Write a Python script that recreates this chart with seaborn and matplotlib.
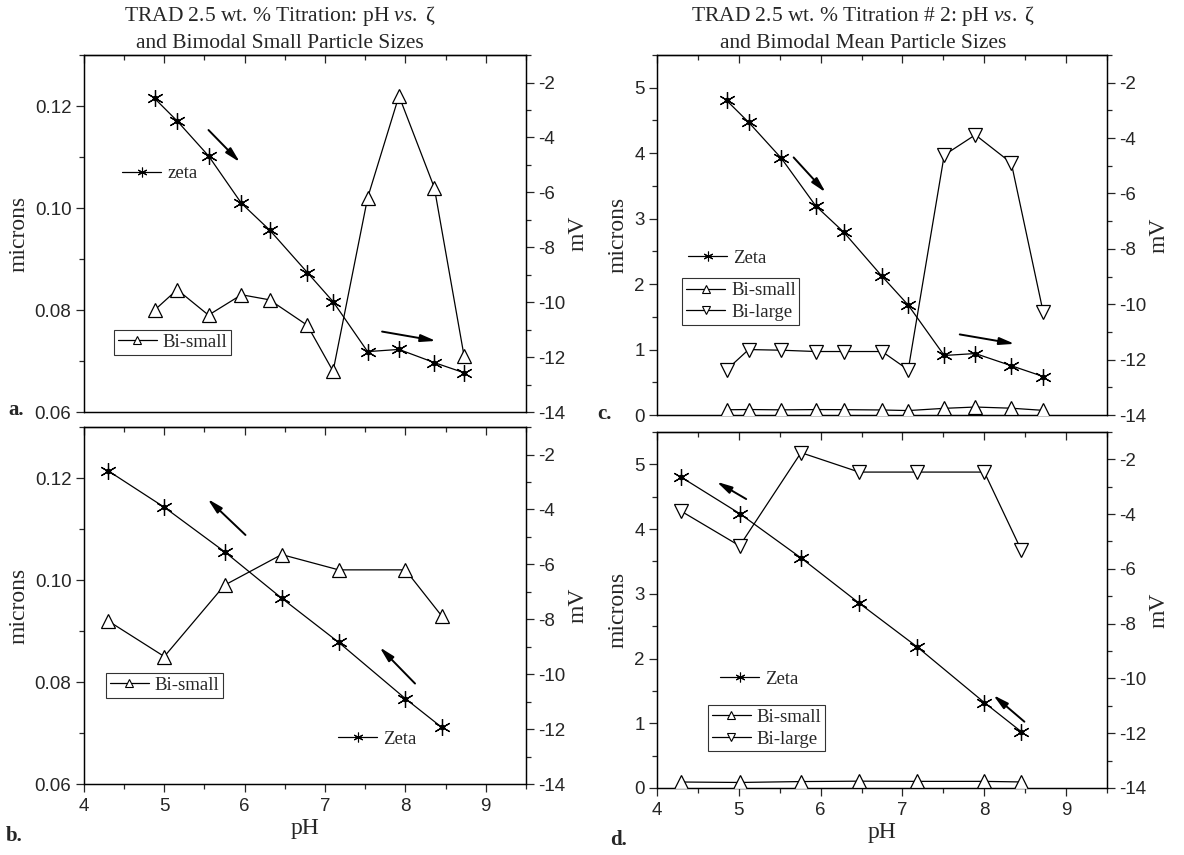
import matplotlib
matplotlib.use("Agg")
import matplotlib.pyplot as plt
from matplotlib.ticker import MultipleLocator
from matplotlib.lines import Line2D
import seaborn as sns

# ---------------- data ----------------
pH_a = [4.88, 5.16, 5.55, 5.96, 6.31, 6.78, 7.10, 7.53, 7.92, 8.36, 8.73]
zeta_a = [-2.58, -3.40, -4.67, -6.40, -7.37, -8.92, -9.98, -11.80, -11.72, -12.20, -12.57]
bismall_a = [0.080, 0.084, 0.079, 0.083, 0.082, 0.077, 0.068, 0.102, 0.122, 0.104, 0.071]

pH_b = [4.30, 5.00, 5.75, 6.46, 7.17, 8.00, 8.45]
zeta_b = [-2.59, -3.92, -5.54, -7.23, -8.84, -10.89, -11.93]
bismall_b = [0.092, 0.085, 0.099, 0.105, 0.102, 0.102, 0.093]

pH_c = [4.85, 5.12, 5.52, 5.94, 6.28, 6.75, 7.07, 7.51, 7.89, 8.33, 8.72]
zeta_c = [-2.64, -3.43, -4.73, -6.45, -7.39, -8.99, -10.03, -11.85, -11.78, -12.22, -12.61]
bismall_c = [0.080, 0.084, 0.079, 0.083, 0.082, 0.077, 0.068, 0.102, 0.122, 0.104, 0.071]
bilarge_c = [0.69, 1.00, 0.99, 0.97, 0.97, 0.97, 0.69, 3.97, 4.28, 3.85, 1.57]

pH_d = [4.29, 5.01, 5.76, 6.47, 7.18, 8.00, 8.45]
zeta_d = [-2.64, -3.98, -5.60, -7.25, -8.85, -10.88, -11.94]
bismall_d = [0.092, 0.085, 0.099, 0.105, 0.102, 0.102, 0.093]
bilarge_d = [4.28, 3.74, 5.18, 4.88, 4.88, 4.88, 3.68]

# direction arrows (pH, mV): start -> end
arrows_a = [((5.55, -3.73), (5.94, -4.90)), ((7.71, -11.07), (8.38, -11.41))]
arrows_b = [((6.01, -4.93), (5.54, -3.62)), ((8.12, -10.34), (7.68, -9.02))]
arrows_c = [((5.67, -4.70), (6.06, -5.96)), ((7.70, -11.09), (8.37, -11.43))]
arrows_d = [((5.09, -3.45), (4.73, -2.82)), ((8.49, -11.58), (8.11, -10.61))]

title_a = ["TRAD 2.5 wt. % Titration: pH $\\it{vs.}$ ζ", "and Bimodal Small Particle Sizes"]
title_c = ["TRAD 2.5 wt. % Titration # 2: pH $\\it{vs.}$ ζ", "and Bimodal Mean Particle Sizes"]

# ---------------- style ----------------
sns.set_style("ticks")
plt.rcParams["font.family"] = ["Liberation Sans", "DejaVu Sans"]
plt.rcParams["axes.unicode_minus"] = False
plt.rcParams["mathtext.fontset"] = "custom"
plt.rcParams["mathtext.rm"] = "Liberation Serif"
plt.rcParams["mathtext.it"] = "Liberation Serif:italic"
SERIF = ["Liberation Serif", "DejaVu Serif"]

fig = plt.figure(figsize=(11.84, 8.55), dpi=100)

ZMARK = (6, 2, 0)


def panel(rect, pH, zeta, small, large, left_lim, left_major, left_minor,
          show_xlabels, zeta_leg, box_leg, arrows, zeta_name):
    ax = fig.add_axes(rect)
    sns.lineplot(x=pH, y=small, ax=ax, sort=False, estimator=None, color="black",
                 lw=0.9, marker="^", markersize=10, markerfacecolor="white",
                 markeredgecolor="black", markeredgewidth=0.9, zorder=3)
    if large is not None:
        sns.lineplot(x=pH, y=large, ax=ax, sort=False, estimator=None, color="black",
                     lw=0.9, marker="v", markersize=10, markerfacecolor="white",
                     markeredgecolor="black", markeredgewidth=0.9, zorder=3)
    ax.set_xlim(4, 9.5)
    ax.set_ylim(*left_lim)
    ax.xaxis.set_major_locator(MultipleLocator(1))
    ax.xaxis.set_minor_locator(MultipleLocator(0.5))
    ax.yaxis.set_major_locator(MultipleLocator(left_major))
    ax.yaxis.set_minor_locator(MultipleLocator(left_minor))
    ax.tick_params(axis="y", which="both", direction="out", left=True, right=False,
                   labelsize=13.5, pad=3)
    ax.tick_params(axis="y", which="major", length=6, width=0.9)
    ax.tick_params(axis="y", which="minor", length=3.5, width=0.9)
    ax.tick_params(axis="x", which="both", direction="out", top=False,
                   bottom=show_xlabels, labelbottom=show_xlabels, labelsize=13.5, pad=4)
    ax.tick_params(axis="x", which="major", length=6, width=0.9)
    ax.tick_params(axis="x", which="minor", length=3.5, width=0.9)
    if left_major < 0.1:
        ax.yaxis.set_major_formatter(plt.FuncFormatter(lambda v, p: f"{v:.2f}"))
    else:
        ax.yaxis.set_major_formatter(plt.FuncFormatter(lambda v, p: f"{v:.0f}"))
    ax.set_ylabel("microns", fontsize=17, family=SERIF, labelpad=4)
    ax.set_xlabel("pH" if show_xlabels else "", fontsize=17, family=SERIF, labelpad=2)

    sec = ax.secondary_xaxis("top")
    sec.xaxis.set_major_locator(MultipleLocator(1))
    sec.xaxis.set_minor_locator(MultipleLocator(0.5))
    sec.tick_params(axis="x", which="both", direction="in", labeltop=False, width=0.9)
    sec.tick_params(axis="x", which="major", length=6)
    sec.tick_params(axis="x", which="minor", length=3.5)

    ax2 = ax.twinx()
    sns.lineplot(x=pH, y=zeta, ax=ax2, sort=False, estimator=None, color="black",
                 lw=0.9, marker=ZMARK, markersize=12, markeredgewidth=0.9,
                 markeredgecolor="black", zorder=3)
    ax2.plot(pH, zeta, ls="none", marker="o", ms=3, color="black", zorder=4)
    ax2.set_ylim(-14, -1)
    ax2.yaxis.set_major_locator(MultipleLocator(2))
    ax2.yaxis.set_minor_locator(MultipleLocator(1))
    ax2.tick_params(axis="y", which="both", direction="out", right=True, labelsize=13.5, pad=3,
                    width=0.9)
    ax2.tick_params(axis="y", which="major", length=6)
    ax2.tick_params(axis="y", which="minor", length=3.5)
    ax2.set_ylabel("mV", fontsize=17, family=SERIF, labelpad=1)
    ax2.set_xlim(4, 9.5)

    for a in (ax, ax2):
        for s in a.spines.values():
            s.set_linewidth(0.9)
            s.set_color("black")
    for s in sec.spines.values():
        s.set_linewidth(0.9)

    for (x0, y0), (x1, y1) in arrows:
        ax2.annotate("", xy=(x1, y1), xytext=(x0, y0),
                     arrowprops=dict(arrowstyle="-|>,head_length=0.9,head_width=0.22",
                                     lw=1.4, color="black", shrinkA=0, shrinkB=0))

    # legends
    zh = Line2D([], [], color="black", lw=0.9, marker=ZMARK, ms=7, mew=0.8)
    lg1 = ax.legend([zh], [zeta_name], loc="center left", bbox_to_anchor=zeta_leg,
                    frameon=False, borderpad=0, borderaxespad=0, handlelength=2.1,
                    handletextpad=0.3, prop=dict(family=SERIF, size=13.5))
    ax.add_artist(lg1)
    handles = [Line2D([], [], color="black", lw=0.9, marker="^", ms=6, mfc="white",
                      mec="black", mew=0.8)]
    labels = ["Bi-small"]
    if large is not None:
        handles.append(Line2D([], [], color="black", lw=0.9, marker="v", ms=6, mfc="white",
                              mec="black", mew=0.8))
        labels.append("Bi-large")
    lg2 = ax.legend(handles, labels, loc="upper left", bbox_to_anchor=box_leg,
                    frameon=True, fancybox=False, borderpad=0.2, borderaxespad=0,
                    handlelength=2.1, handletextpad=0.3, labelspacing=0.25,
                    prop=dict(family=SERIF, size=13.5))
    lg2.get_frame().set_edgecolor("black")
    lg2.get_frame().set_linewidth(0.8)
    lg2.set_zorder(10)
    ax.set_zorder(ax2.get_zorder() + 1)
    ax.patch.set_visible(False)
    return ax, ax2


panel([0.0709, 0.5181, 0.3733, 0.4175], pH_a, zeta_a, bismall_a, None,
      (0.06, 0.13), 0.02, 0.01, False, (0.086, 0.667), (0.068, 0.23), arrows_a, "zeta")
panel([0.0709, 0.0830, 0.3733, 0.4175], pH_b, zeta_b, bismall_b, None,
      (0.06, 0.13), 0.02, 0.01, True, (0.575, 0.126), (0.05, 0.311), arrows_b, "Zeta")
panel([0.5549, 0.5146, 0.3801, 0.4211], pH_c, zeta_c, bismall_c, bilarge_c,
      (0, 5.5), 1, 0.5, False, (0.069, 0.436), (0.056, 0.38), arrows_c, "Zeta")
panel([0.5549, 0.0784, 0.3801, 0.4164], pH_d, zeta_d, bismall_d, bilarge_d,
      (0, 5.5), 1, 0.5, True, (0.14, 0.306), (0.113, 0.233), arrows_d, "Zeta")

# titles
for xc, lines in ((280, title_a), (863, title_c)):
    fig.text(xc / 1184, 1 - 16 / 855, lines[0], ha="center", va="center",
             fontsize=15.5, family=SERIF)
    fig.text(xc / 1184, 1 - 43 / 855, lines[1], ha="center", va="center",
             fontsize=15.5, family=SERIF)

# panel letters
for txt, x, y in (("a.", 8, 410), ("b.", 6, 836), ("c.", 597, 414), ("d.", 610, 840)):
    fig.text(x / 1184, 1 - y / 855, txt, ha="left", va="center", fontsize=15,
             family=SERIF, weight="bold")

fig.savefig("out.png", dpi=100)
